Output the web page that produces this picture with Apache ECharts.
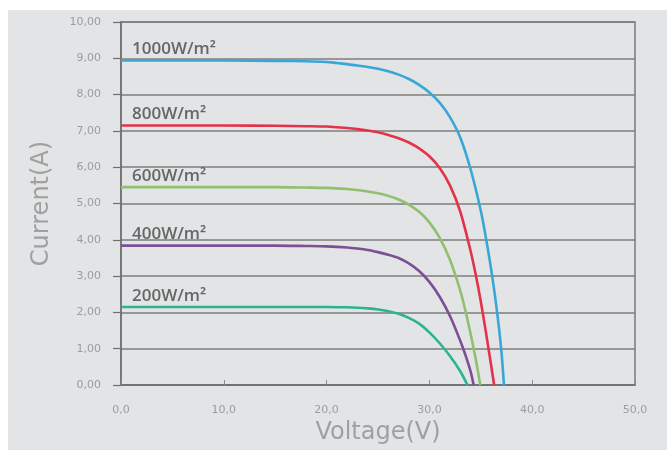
<!DOCTYPE html>
<html>
<head>
<meta charset="utf-8">
<script src="https://cdn.jsdelivr.net/npm/echarts@6/dist/echarts.min.js"></script>
<style>
html,body{margin:0;padding:0;background:#ffffff;width:667px;height:450px;overflow:hidden;}
#c{position:absolute;left:8px;top:10px;width:659px;height:440px;background:#e2e4e6;}
</style>
</head>
<body>
<div id="c"></div>
<script>
// Irradiance levels (series names)
const seriesNames = ['1000W/m²', '800W/m²', '600W/m²', '400W/m²', '200W/m²'];
const seriesColors = ['#3aa6d6', '#e2334a', '#8fc070', '#7d4f96', '#2cb490'];

// Voltage (V) / Current (A) samples
const v1000 = [0, 5, 10, 15, 18, 20, 21, 22, 23, 24, 25, 26, 27, 28, 29, 30, 31, 32, 33, 34, 35, 35.5, 36, 36.5, 37, 37.25];
const i1000 = [8.94, 8.94, 8.94, 8.93, 8.92, 8.90, 8.87, 8.84, 8.80, 8.76, 8.71, 8.64, 8.55, 8.43, 8.27, 8.06, 7.78, 7.38, 6.82, 5.95, 4.8, 4.05, 3.2, 2.2, 0.95, 0];

const v800 = [0, 5, 10, 15, 18, 20, 21, 22, 23, 24, 25, 26, 27, 28, 29, 30, 31, 32, 33, 34, 34.5, 35, 35.5, 36, 36.3];
const i800 = [7.15, 7.15, 7.15, 7.14, 7.13, 7.12, 7.10, 7.08, 7.05, 7.01, 6.96, 6.89, 6.80, 6.68, 6.52, 6.30, 5.98, 5.5, 4.78, 3.7, 3.05, 2.3, 1.45, 0.55, 0];

const v600 = [0, 5, 10, 15, 18, 20, 22, 23, 24, 25, 26, 27, 28, 29, 30, 31, 32, 33, 33.5, 34, 34.5, 34.95];
const i600 = [5.45, 5.45, 5.45, 5.45, 5.44, 5.43, 5.40, 5.37, 5.33, 5.28, 5.21, 5.11, 4.97, 4.77, 4.48, 4.05, 3.45, 2.6, 2.05, 1.42, 0.72, 0];

const v400 = [0, 5, 10, 15, 18, 20, 22, 23, 24, 25, 26, 27, 28, 29, 30, 31, 32, 33, 33.5, 34, 34.3];
const i400 = [3.84, 3.84, 3.84, 3.84, 3.83, 3.82, 3.79, 3.76, 3.72, 3.66, 3.59, 3.50, 3.35, 3.14, 2.84, 2.43, 1.9, 1.22, 0.83, 0.38, 0];

const v200 = [0, 5, 10, 15, 18, 20, 22, 23, 24, 25, 26, 27, 28, 29, 30, 31, 32, 33, 33.7];
const i200 = [2.15, 2.15, 2.15, 2.15, 2.15, 2.15, 2.14, 2.13, 2.11, 2.08, 2.03, 1.96, 1.85, 1.69, 1.45, 1.15, 0.8, 0.38, 0];

const voltages = [v1000, v800, v600, v400, v200];
const currents = [i1000, i800, i600, i400, i200];

const chart = echarts.init(document.getElementById('c'), null, {renderer: 'canvas'});

const series = seriesNames.map(function (name, k) {
  const data = voltages[k].map(function (v, j) { return [v, currents[k][j]]; });
  return {
    name: name,
    type: 'line',
    data: data,
    smooth: 0.3,
    showSymbol: false,
    symbol: 'none',
    lineStyle: {color: seriesColors[k], width: 2.6},
    itemStyle: {color: seriesColors[k]},
    z: 5,
    markPoint: {
      symbol: 'circle',
      symbolSize: 0,
      silent: true,
      data: [{coord: [voltages[k][0], currents[k][0]]}],
      label: {
        show: true,
        position: 'right',
        distance: 0,
        offset: [11, -11],
        formatter: name,
        color: '#666666',
        fontFamily: 'Open Sans',
        fontWeight: 600,
        fontSize: 17
      }
    }
  };
});

chart.setOption({
  animation: false,
  backgroundColor: 'transparent',
  grid: {
    left: 113, right: 32, top: 12, bottom: 60,
    show: true, borderColor: '#7a7a7a', borderWidth: 1.5, backgroundColor: 'transparent'
  },
  xAxis: {
    type: 'value', min: 0, max: 50, interval: 10,
    name: 'Voltage(V)', nameLocation: 'middle', nameGap: 36,
    nameTextStyle: {color: '#a0a0a0', fontSize: 24, fontFamily: 'DejaVu Sans'},
    axisLine: {show: true, lineStyle: {color: '#6e6e6e', width: 1.5}},
    axisTick: {show: true, inside: true, length: 5, lineStyle: {color: '#8a8a8a'}},
    axisLabel: {
      color: '#9c9c9c', fontSize: 11, fontFamily: 'DejaVu Sans', margin: 20,
      formatter: function (v) { return v.toFixed(1).replace('.', ','); }
    },
    splitLine: {show: false}
  },
  yAxis: {
    type: 'value', min: 0, max: 10, interval: 1,
    name: 'Current(A)', nameLocation: 'middle', nameGap: 67,
    nameTextStyle: {color: '#a0a0a0', fontSize: 24, fontFamily: 'DejaVu Sans'},
    axisLine: {show: true, lineStyle: {color: '#6e6e6e', width: 1.5}},
    axisTick: {show: true, inside: false, length: 8, lineStyle: {color: '#6e6e6e', width: 1.2}},
    axisLabel: {
      color: '#9c9c9c', fontSize: 11, fontFamily: 'DejaVu Sans', margin: 20,
      formatter: function (v) { return v.toFixed(2).replace('.', ','); }
    },
    splitLine: {show: true, lineStyle: {color: '#7e7e7e', width: 1.5}}
  },
  series: series
});
</script>
</body>
</html>
